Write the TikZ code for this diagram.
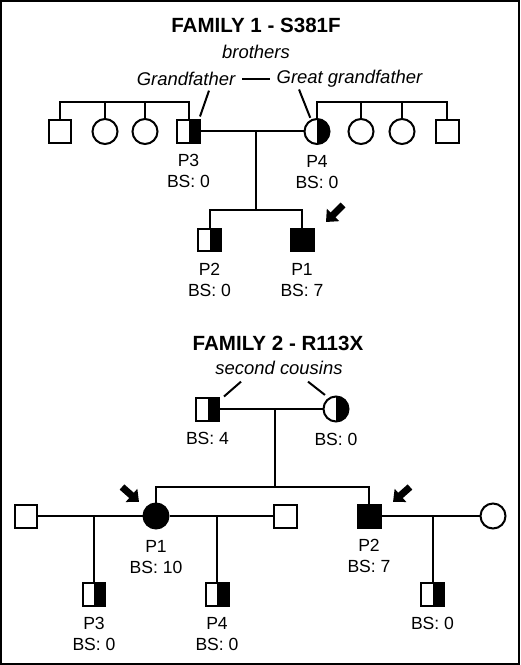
\documentclass[tikz,border=0pt]{standalone}
\usepackage{fontspec}
\setmainfont{Liberation Sans}
\usetikzlibrary{arrows.meta}
\begin{document}
\begin{tikzpicture}[x=0.02cm, y=-0.02cm, line width=0.04cm]
	\useasboundingbox (0,0) rectangle (520,665);
	\draw[line width=0.05cm] (1.25,1.25) rectangle (518.75,663.75);
	\tikzstyle{male}=[rectangle, draw=black, fill=white, minimum size=0.46cm, inner sep=0pt]
	\tikzstyle{female}=[circle, draw=black, fill=white, minimum size=0.5cm, inner sep=0pt]
	\tikzstyle{carrier}=[path picture={\fill[black] (path picture bounding box.north) rectangle (path picture bounding box.south east);}]
	\tikzstyle{affected}=[fill=black]
	\tikzstyle{info}=[font=\fontsize{10}{12}\selectfont, align=center, inner sep=0pt, label distance=0.19cm]
	\tikzstyle{title}=[font=\bfseries\fontsize{11.7}{14}\selectfont]
	\tikzstyle{note}=[font=\itshape\fontsize{10.5}{12}\selectfont]

	% family 1
	\node[title] (f1title) at (256,25) {FAMILY 1 - S381F};
	\node[note] (f1rel) at (256,52) {brothers};
	\node[note] (f1gf) at (186,79) {Grandfather};
	\node[note] (f1ggf) at (349.5,79) {Great grandfather};

	\node[male] 	(f1s1) at (60,131.5) {};
	\node[female] 	(f1s2) at (105,131.5) {};
	\node[female] 	(f1s3) at (145,131.5) {};
	\node[male, carrier, label={[info]below:{P3\\BS: 0}}] 	(f1p3) at (188.5,131.5) {};
	\node[female, carrier, label={[info]below:{P4\\BS: 0}}] (f1p4) at (317,131.5) {};
	\node[female] 	(f1s4) at (361,131.5) {};
	\node[female] 	(f1s5) at (402,131.5) {};
	\node[male] 	(f1s6) at (447,131.5) {};
	\node[male, carrier, label={[info]below:{P2\\BS: 0}}] 	(f1p2) at (209.5,240) {};
	\node[male, affected, label={[info]below:{P1\\BS: 7}}] 	(f1p1) at (302,240) {};

	\coordinate (f1top) at (0,102);
	\coordinate (f1m) at (256,131.5);
	\coordinate (f1c) at (256,210);
	\coordinate (f1a) at (343,205);
	\coordinate (f1b) at (326,222);

	\draw (f1s1) |- (f1p3 |- f1top) -- (f1p3);
	\draw (f1s2) -- (f1s2 |- f1top);
	\draw (f1s3) -- (f1s3 |- f1top);
	\draw (f1p4) |- (f1s6 |- f1top) -- (f1s6);
	\draw (f1s4) -- (f1s4 |- f1top);
	\draw (f1s5) -- (f1s5 |- f1top);
	\draw (f1p3) -- (f1p4);
	\draw (f1m) -- (f1c);
	\draw (f1p2) |- (f1c) -| (f1p1);

	\draw (f1gf) -- (f1ggf);
	\draw ([xshift=0.46cm, yshift=0.04cm]f1gf.south) -- ([xshift=-0.02cm, yshift=0.05cm]f1p3.north east);
	\draw ([xshift=-1.01cm, yshift=0.1cm]f1ggf.south) -- ([yshift=0.04cm]f1p4.120);

	% family 2
	\node[title] (f2title) at (278,343) {FAMILY 2 - R113X};
	\node[note] (f2rel) at (279,368) {second cousins};

	\node[male, carrier, label={[info]below:{BS: 4}}] 	(f2fa) at (207.5,409) {};
	\node[female, carrier, label={[info]below:{BS: 0}}] (f2mo) at (336,409) {};
	\node[male] 	(f2h1) at (26,516) {};
	\node[female, affected, label={[info]below:{P1\\BS: 10}}] (f2p1) at (156,516) {};
	\node[male] 	(f2h2) at (285.5,516) {};
	\node[male, affected, label={[info]below:{P2\\BS: 7}}] 	(f2p2) at (369,516) {};
	\node[female] 	(f2w) at (493,516) {};
	\node[male, carrier, label={[info]below:{P3\\BS: 0}}] 	(f2p3) at (94,594) {};
	\node[male, carrier, label={[info]below:{P4\\BS: 0}}] 	(f2p4) at (217,594) {};
	\node[male, carrier, label={[info]below:{BS: 0}}] 	(f2k) at (432.5,594) {};

	\coordinate (f2m) at (275,408);
	\coordinate (f2c) at (275,487);
	\coordinate (f2a) at (122,487);
	\coordinate (f2b) at (139,502);
	\coordinate (f2d) at (410,487);
	\coordinate (f2e) at (393,502);

	\draw (f2fa) -- (f2mo);
	\draw (f2m) -- (f2c);
	\draw (f2p1) |- (f2c) -| (f2p2);
	\draw (f2h1) -- (f2p1);
	\draw (f2p1) -- (f2h2);
	\draw (f2p2) -- (f2w);
	\draw (f2p3) -- (f2p3 |- f2h1);
	\draw (f2p4) -- (f2p4 |- f2h1);
	\draw (f2k) -- (f2k |- f2w);

	\draw ([xshift=-0.76cm]f2rel.south) -- ([xshift=0.08cm]f2fa.north east);
	\draw ([xshift=0.58cm]f2rel.south) -- ([xshift=-0.03cm, yshift=0.09cm]f2mo.135);

	\begin{scope}[line width=0.14cm, -{Triangle[width=0.34cm, length=0.2cm]}]
		\draw (f1a) -- (f1b);
		\draw (f2a) -- (f2b);
		\draw (f2d) -- (f2e);
	\end{scope}
\end{tikzpicture}
\end{document}
